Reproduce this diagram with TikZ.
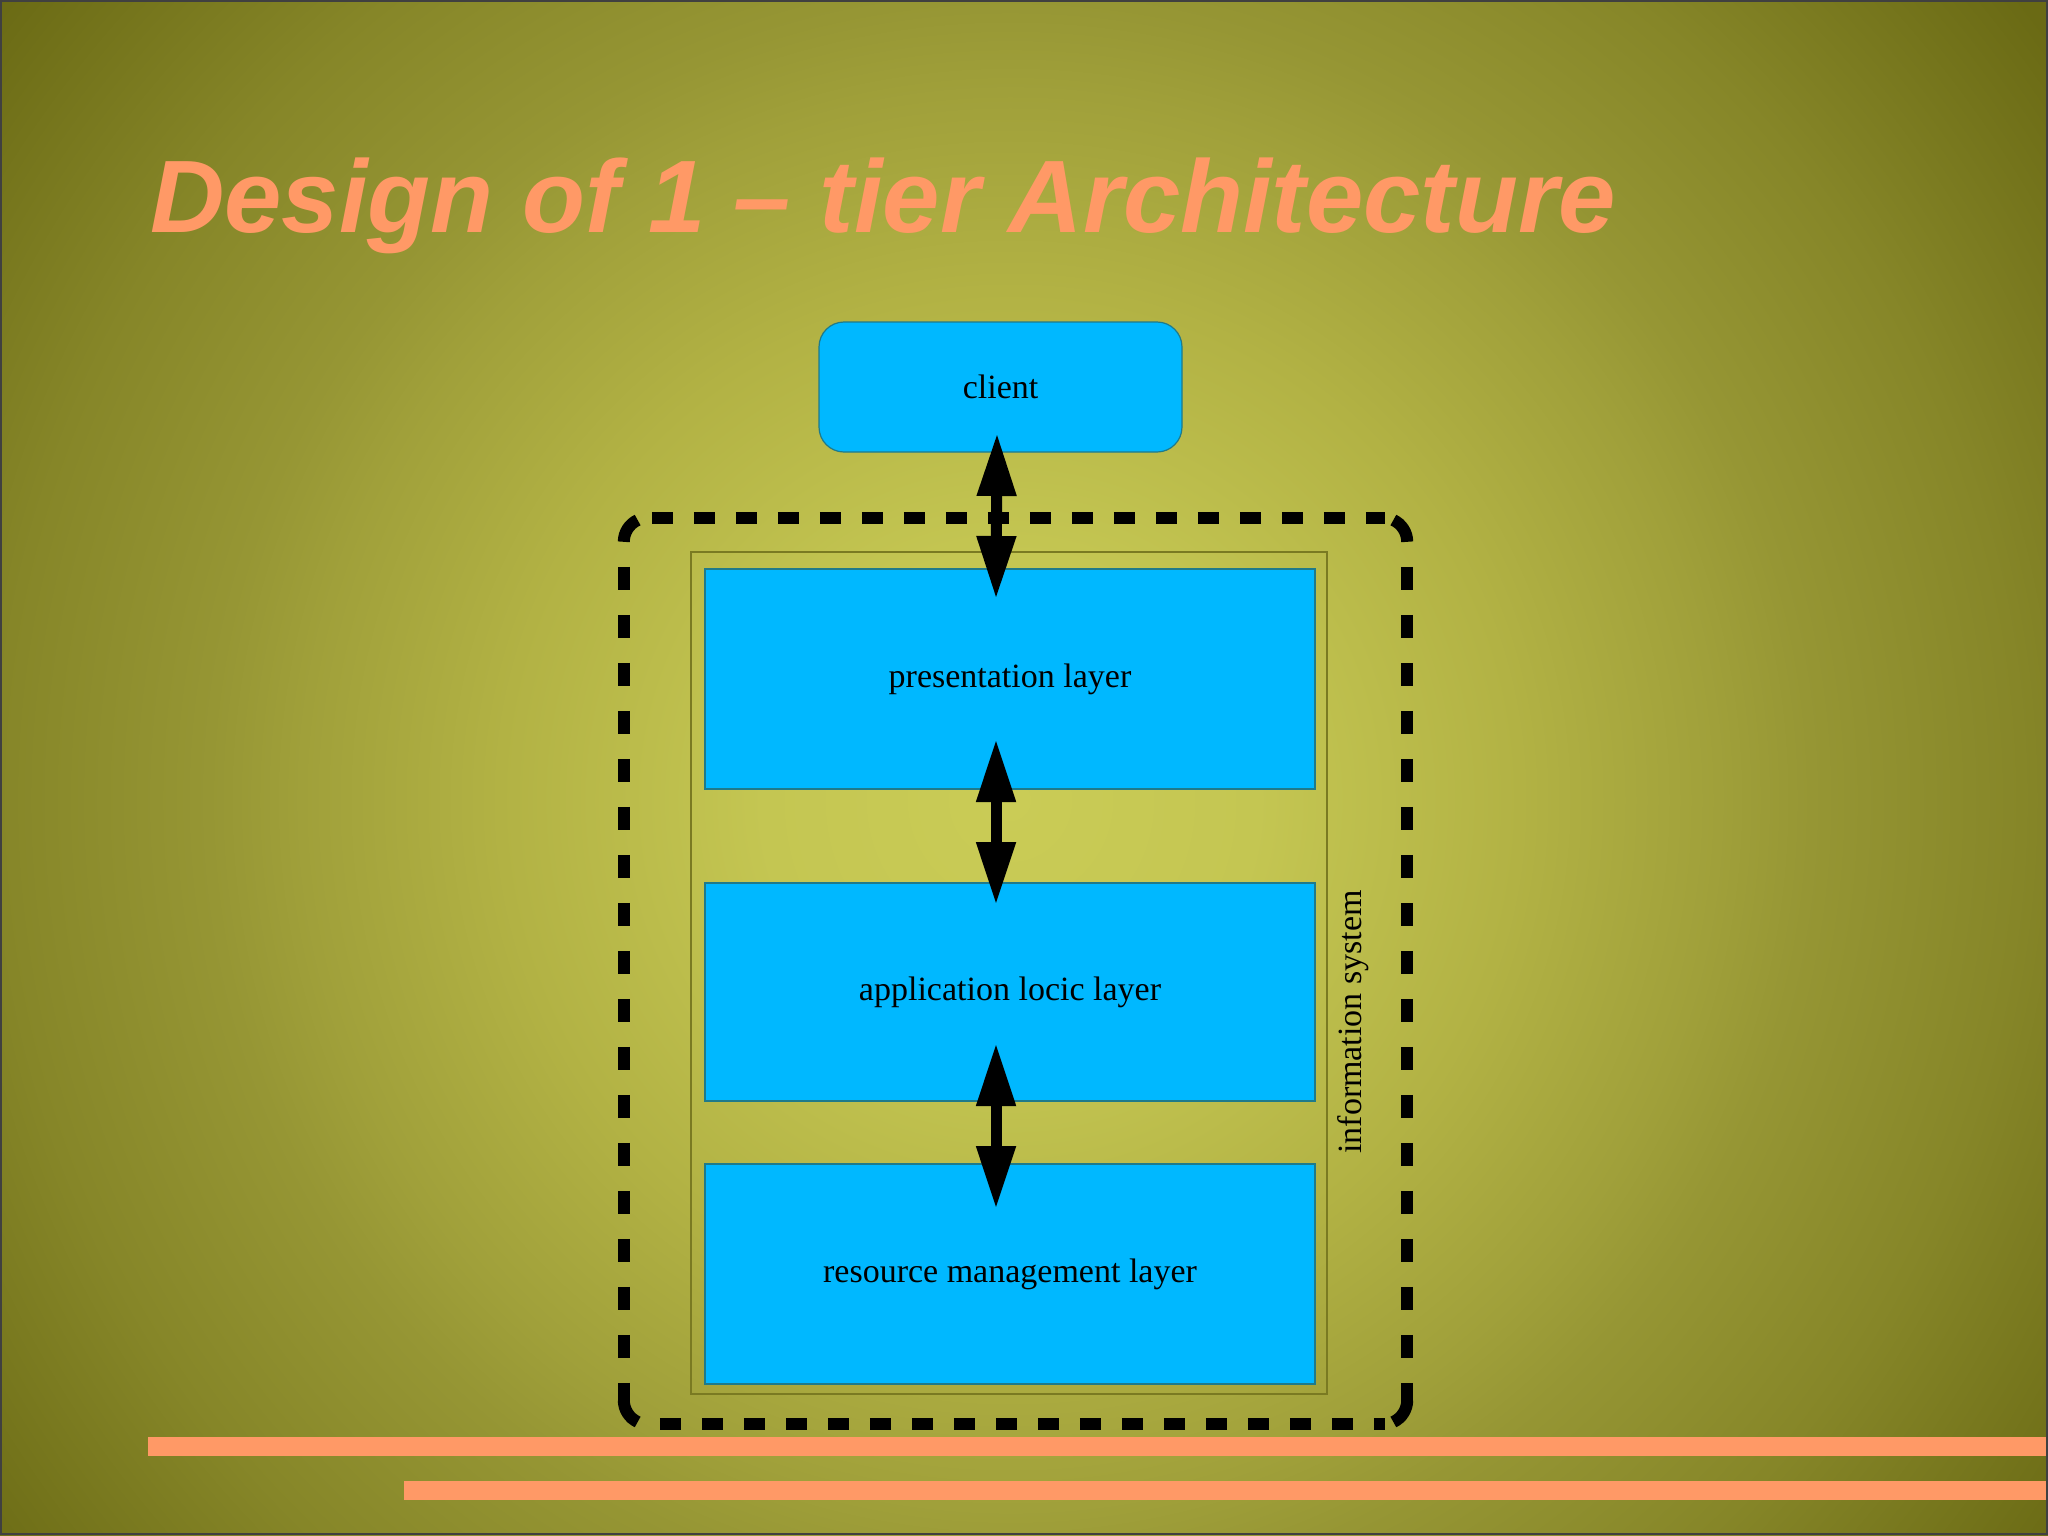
\documentclass[tikz,border=0pt]{standalone}
\usepackage{fontspec}
\setmainfont{Liberation Serif}
\newfontfamily\titlefont{Liberation Sans}
\usetikzlibrary{arrows.meta}
\definecolor{bga}{RGB}{202,204,86}
\definecolor{bgb}{RGB}{196,198,82}
\definecolor{bgc}{RGB}{178,178,68}
\definecolor{bgd}{RGB}{160,160,58}
\definecolor{bge}{RGB}{150,150,52}
\definecolor{bgf}{RGB}{134,134,40}
\definecolor{bgg}{RGB}{106,106,20}
\definecolor{salmon}{HTML}{FF9966}
\definecolor{layerblue}{HTML}{00B8FF}
\definecolor{layeredge}{HTML}{1F7A8A}
\definecolor{olive}{HTML}{7A7A22}
\pgfdeclareradialshading{bgshade}{\pgfpoint{0bp}{0bp}}{color(0bp)=(bga); color(5.6bp)=(bgb); color(11.6bp)=(bgc); color(16.1bp)=(bgd); color(18.2bp)=(bge); color(23bp)=(bgf); color(29.3bp)=(bgg); color(50bp)=(bgg)}
\tikzset{
  layerbox/.style={rectangle, fill=layerblue, draw=layeredge, line width=1.2pt,
    minimum width=610pt, inner sep=0pt, font=\fontsize{34}{40}\selectfont},
  clientbox/.style={layerbox, rounded corners=25pt, minimum width=363pt, minimum height=130pt},
  dashh/.style={line width=12pt, dash pattern=on 21pt off 21pt, line cap=butt},
  dashv/.style={line width=12pt, dash pattern=on 23pt off 25pt, line cap=butt},
  cornerarc/.style={line width=12pt, line cap=butt},
  bigarrow/.style={line width=11pt, {Triangle[length=63pt,width=37pt]}-{Triangle[length=63pt,width=37pt]}},
  bar/.style={fill=salmon, draw=none}
}
\begin{document}
\begin{tikzpicture}[x=1pt,y=-1pt]
\useasboundingbox (0,0) rectangle (2048,1535);
\begin{scope}
\clip (0,0) rectangle (2048,1535);
\shade[shading=bgshade] (-90,-300) rectangle (2110,1900);
\end{scope}
\draw[line width=2pt, color=black!75] (1,1) rectangle (2047,1534);

% title
\node[anchor=base west, inner sep=0pt, text=salmon, font=\titlefont\bfseries\itshape\fontsize{103}{120}\selectfont] (title) at (150,232) {Design of 1 – tier Architecture};

% information system inner frame
\node[rectangle, draw=olive, line width=1.5pt, minimum width=636pt, minimum height=842pt, inner sep=0pt] (info) at (1009,973) {};
\node[rotate=90, inner sep=0pt, font=\fontsize{34}{40}\selectfont] (infotext) at (1353,1022) {information system};

% layers
\node[layerbox, minimum height=220pt] (pres) at (1010,679) {presentation layer};
\node[layerbox, minimum height=218pt] (app) at (1010,992) {application locic layer};
\node[layerbox, minimum height=220pt] (res) at (1010,1274) {resource management layer};
\node[clientbox] (client) at (1000.5,387) {client};

% dashed rounded frame
\node[rectangle, minimum width=783pt, minimum height=906pt, inner sep=0pt] (sys) at (1015.5,971) {};
\draw[dashh] ([xshift=28pt]sys.north west) -- ([xshift=-22pt]sys.north east);
\draw[dashh] ([xshift=36pt]sys.south west) -- ([xshift=-22pt]sys.south east);
\draw[dashv] ([yshift=-49pt]sys.north west) -- ([yshift=22pt]sys.south west);
\draw[dashv] ([yshift=-49pt]sys.north east) -- ([yshift=22pt]sys.south east);
\draw[cornerarc] ([yshift=-24pt]sys.north west) arc[start angle=180, end angle=115, radius=24pt];
\draw[cornerarc] ([yshift=-24pt]sys.north east) arc[start angle=0, end angle=65, radius=24pt];
\draw[cornerarc] ([yshift=24pt]sys.south west) arc[start angle=180, end angle=245, radius=24pt];
\draw[cornerarc] ([yshift=24pt]sys.south east) arc[start angle=0, end angle=-65, radius=24pt];

% arrows
\coordinate (a1s) at (997,433);
\coordinate (a1e) at (996,599);
\coordinate (a2s) at (996,739);
\coordinate (a2e) at (996,905);
\coordinate (a3s) at (996,1043);
\coordinate (a3e) at (996,1209);
\draw[bigarrow] (a1s) -- (a1e);
\draw[bigarrow] (a2s) -- (a2e);
\draw[bigarrow] (a3s) -- (a3e);

% bottom bars
\fill[bar] (148,1437) rectangle (2046,1456);
\fill[bar] (404,1481) rectangle (2046,1500);
\end{tikzpicture}
\end{document}
